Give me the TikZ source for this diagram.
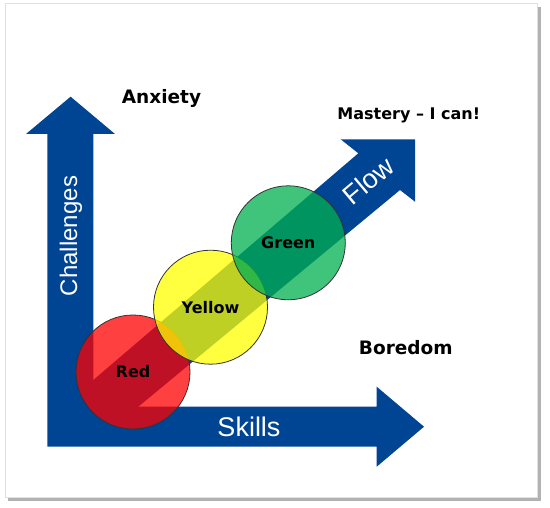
\documentclass[tikz,border=0pt]{standalone}
\usepackage{fontspec}
\newfontfamily\zonefont{DejaVu Sans}
\newfontfamily\axisfont{Liberation Sans}
\definecolor{flowblue}{RGB}{0,68,148}
\definecolor{zonered}{RGB}{255,0,0}
\definecolor{zoneyellow}{RGB}{255,255,0}
\definecolor{zonegreen}{RGB}{0,176,80}
\tikzset{
    zone/.style={circle,draw=black!80,line width=0.8pt,fill opacity=0.75,text opacity=1,
      minimum size=114pt,inner sep=0pt,font=\zonefont\bfseries\fontsize{16}{19}\selectfont},
    corner/.style={anchor=base,font=\zonefont\bfseries\fontsize{18.5}{22}\selectfont},
    axislabel/.style={text=white,font=\axisfont\fontsize{27}{32}\selectfont},
  }
\begin{document}
\begin{tikzpicture}[x=1pt,y=-1pt]
				  %cadre 550x508, y vers le bas
				  %ombre puis page
				  \useasboundingbox (0,0) rectangle (550,508);
				  \fill[black!30] (8,7) rectangle (540.5,500.5);
				  \fill[white] (5,4) rectangle (537,497);
				  \draw[black!12,line width=1pt] (5,4) rectangle (537,497);
				  %fleches : axes en L puis diagonale
				  \fill[flowblue] (47.3,446.7) -- (47.3,134) -- (26,134) -- (70.6,96.7) -- (115,134) -- (93.3,134)
				       -- (93.3,406.7) -- (376.7,406.7) -- (376.7,386.7) -- (424,426.7) -- (376.7,466.7)
				       -- (376.7,446.7) -- cycle;
				  \fill[flowblue] (60,408.5) -- (358.3,153.3) -- (340.7,139.3) -- (415,139.3) -- (415,201.7)
				       -- (400,190) -- (98.1,440) -- cycle;
				  \node[axislabel] (skills) at (249,436) [anchor=base] {Skills};
				  \node[axislabel,font=\axisfont\fontsize{24}{29}\selectfont,rotate=90] (challenges) at (71,236) {Challenges};
				  \node[axislabel,rotate=40] (flow) at (368,180.5) {Flow};
				  %zones
				  \node[zone,fill=zonered] (red) at (133,372) {Red};
				  \node[zone,fill=zoneyellow] (yellow) at (210.5,307.2) {Yellow};
				  \node[zone,fill=zonegreen] (green) at (288.3,242.8) {Green};
				  \node[corner] (anxiety) at (161.5,103.3) {Anxiety};
				  \node[corner,font=\zonefont\bfseries\fontsize{16}{19}\selectfont] (mastery) at (408.8,119.3) {Mastery – I can!};
				  \node[corner] (boredom) at (405.8,354.3) {Boredom};
				  \end{tikzpicture}
\end{document}
